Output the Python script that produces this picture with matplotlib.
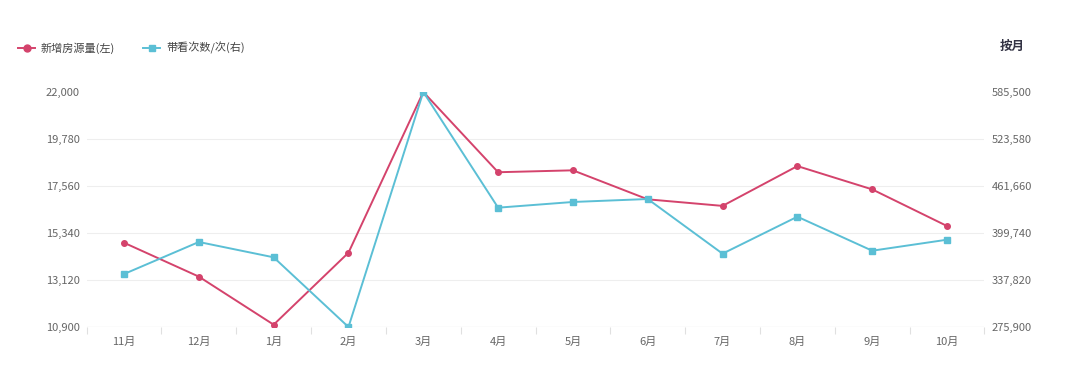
import matplotlib
matplotlib.use("Agg")
import matplotlib.pyplot as plt
from matplotlib.lines import Line2D
from matplotlib.ticker import FuncFormatter

plt.rcParams["font.family"] = ["Noto Sans CJK SC", "DejaVu Sans"]

months = ["11月", "12月", "1月", "2月", "3月", "4月", "5月", "6月", "7月", "8月", "9月", "10月"]
new_listings = [14880, 13280, 11010, 14410, 22000, 18210, 18300, 16930, 16620, 18500, 17400, 15670]
viewings = [345700, 387900, 367700, 275900, 585500, 433100, 440600, 444500, 372500, 421200, 376400, 390900]

left_ticks = [10900, 13120, 15340, 17560, 19780, 22000]
right_ticks = [275900, 337820, 399740, 461660, 523580, 585500]

red = "#d4436c"
blue = "#5bbfd5"
label_color = "#666666"

fig = plt.figure(figsize=(10.8, 3.73), dpi=100)
ax = fig.add_axes([0.0802, 0.1233, 0.8313, 0.6301])
ax2 = ax.twinx()

x = list(range(len(months)))
ax.plot(x, new_listings, color=red, lw=1.4, marker="o", ms=4, zorder=3)
ax2.plot(x, viewings, color=blue, lw=1.4, marker="s", ms=4, zorder=3)

ax.set_xlim(-0.5, len(months) - 0.5)
ax.set_ylim(left_ticks[0], left_ticks[-1])
ax2.set_ylim(right_ticks[0], right_ticks[-1])
ax.set_yticks(left_ticks)
ax2.set_yticks(right_ticks)
fmt = FuncFormatter(lambda v, p: f"{int(round(v)):,}")
ax.yaxis.set_major_formatter(fmt)
ax2.yaxis.set_major_formatter(fmt)

# gridlines (no line at the top)
for v in left_ticks[1:-1]:
    ax.axhline(v, color="#eeeeee", lw=0.8, zorder=0)
ax.axhline(left_ticks[0], color="#e0e0e0", lw=0.9, zorder=1)

ax.set_xticks(x)
ax.set_xticklabels(months)
ax.set_xticks([i - 0.5 for i in range(len(months) + 1)], minor=True)
ax.tick_params(axis="x", which="major", length=0, pad=7, labelsize=8, labelcolor=label_color)
ax.tick_params(axis="x", which="minor", length=5, color="#e0e0e0", width=0.8)
ax.tick_params(axis="y", length=0, pad=5, labelsize=8, labelcolor=label_color)
ax2.tick_params(axis="y", length=0, pad=5, labelsize=8, labelcolor=label_color)

for a in (ax, ax2):
    for s in a.spines.values():
        s.set_visible(False)

# legend drawn by hand
W, H = 1080.0, 373.0
def fx(px):
    return px / W
def fy(py):
    return 1 - py / H

legend_items = [("新增房源量(左)", red, "o", 18), ("带看次数/次(右)", blue, "s", 143)]
for text, color, mk, x0 in legend_items:
    for seg in ((x0, x0 + 5), (x0 + 12, x0 + 17)):
        fig.add_artist(Line2D([fx(seg[0]), fx(seg[1])], [fy(48), fy(48)], color=color, lw=1.4))
    fig.add_artist(Line2D([fx(x0 + 8.5)], [fy(48)], color=color, marker=mk, ms=5, lw=0))
    fig.text(fx(x0 + 23), fy(48), text, fontsize=8, color="#444444", va="center", ha="left")

fig.text(fx(1000), fy(46), "按月", fontsize=9, color="#333344", fontweight="bold", va="center", ha="left")

fig.savefig("out.png", dpi=100)
